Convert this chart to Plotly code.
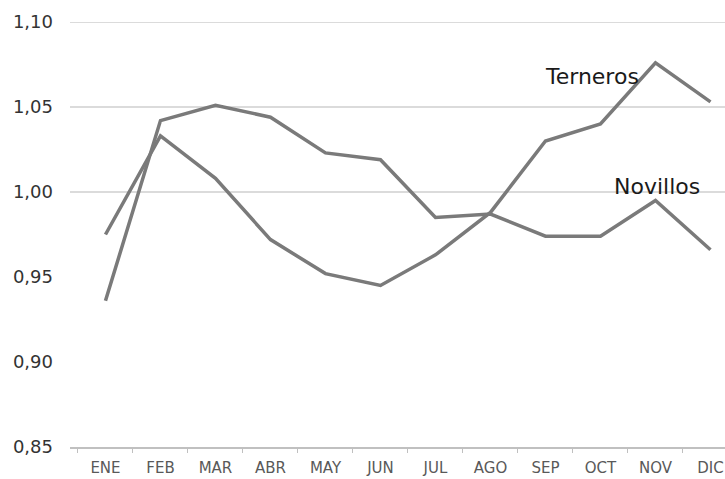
import plotly.graph_objects as go

# Monthly seasonal index for calves and steers
months = ["ENE", "FEB", "MAR", "ABR", "MAY", "JUN",
          "JUL", "AGO", "SEP", "OCT", "NOV", "DIC"]
terneros = [0.975, 1.033, 1.008, 0.972, 0.952, 0.945,
            0.963, 0.988, 1.030, 1.040, 1.076, 1.053]
novillos = [0.936, 1.042, 1.051, 1.044, 1.023, 1.019,
            0.985, 0.987, 0.974, 0.974, 0.995, 0.966]

y_ticks = [0.85, 0.90, 0.95, 1.00, 1.05, 1.10]
grid_levels = [1.00, 1.05, 1.10]

line_color = "#7a7a7a"

fig = go.Figure()
for name, vals in (("Terneros", terneros), ("Novillos", novillos)):
    fig.add_trace(go.Scatter(
        x=months, y=vals, mode="lines", name=name,
        line=dict(color=line_color, width=3.5),
        showlegend=False, hoverinfo="skip",
    ))

# series labels placed beside the lines
fig.add_annotation(x=8.845, y=1.068, text="Terneros", showarrow=False,
                   xref="x", yref="y",
                   font=dict(family="DejaVu Sans", size=22, color="#1a1a1a"))
fig.add_annotation(x=10.036, y=1.0035, text="Novillos", showarrow=False,
                   xref="x", yref="y",
                   font=dict(family="DejaVu Sans", size=22, color="#1a1a1a"))

for lvl in grid_levels:
    fig.add_shape(type="line", xref="paper", yref="y", x0=0, x1=1,
                  y0=lvl, y1=lvl, layer="below",
                  line=dict(color="#cfcfcf", width=1.5))

fig.update_layout(
    width=725, height=479,
    margin=dict(l=70, r=0, t=22, b=32),
    paper_bgcolor="white", plot_bgcolor="white",
    separators=",.",
)
fig.update_xaxes(
    type="category", range=[-0.645, 11.264],
    showgrid=False, showline=True, linecolor="#c0c0c0", linewidth=1.5,
    ticks="outside", tickson="boundaries", ticklen=4, tickcolor="#c0c0c0",
    ticklabelstandoff=6,
    tickfont=dict(family="DejaVu Sans", size=15, color="#595959"),
)
fig.update_yaxes(
    range=[0.85, 1.10], tickvals=y_ticks, tickformat=".2f",
    showgrid=False, zeroline=False, showline=False,
    ticklabelstandoff=16,
    tickfont=dict(family="DejaVu Sans", size=18, color="#333333"),
)

fig.write_html("out.html")
